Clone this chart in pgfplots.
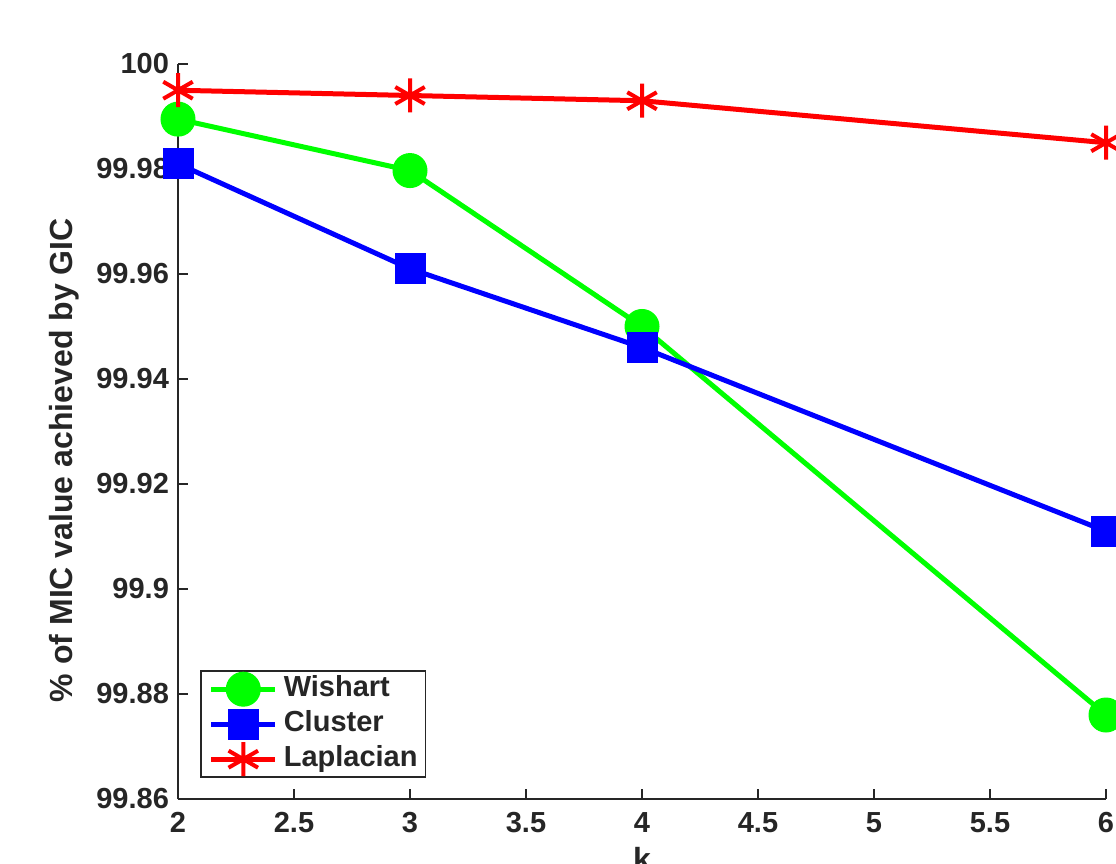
\documentclass[border=0pt]{standalone}
\usepackage{fontspec}
\setmainfont{Liberation Sans}
\usepackage{pgfplots}
\pgfplotsset{compat=1.18}
\definecolor{txt}{RGB}{38,38,38}
\begin{document}
\begin{tikzpicture}
\begin{axis}[name=ax, scale only axis, width=464pt, height=367.5pt,
  xmin=2, xmax=6, ymin=99.86, ymax=100,
  axis x line*=bottom, axis y line*=left,
  axis line style={line width=0.8pt, draw=txt},
  xtick={2,2.5,3,3.5,4,4.5,5,5.5,6},
  xticklabels={2,2.5,3,3.5,4,4.5,5,5.5,6},
  ytick={99.86,99.88,99.9,99.92,99.94,99.96,99.98,100},
  yticklabels={99.86,99.88,99.9,99.92,99.94,99.96,99.98,100},
  tick align=inside, major tick length=5pt,
  tick style={line width=0.8pt, draw=txt},
  ticklabel style={font=\fontsize{14.5}{17}\selectfont\bfseries, text=txt},
  xticklabel style={yshift=-3pt},
  yticklabel style={xshift=-1pt},
  ylabel={\% of MIC value achieved by GIC},
  ylabel style={at={(axis description cs:-0.123,0.461)}, anchor=center, rotate=0, font=\fontsize{16}{19}\selectfont\bfseries, text=txt},
  xlabel={k},
  xlabel style={at={(axis description cs:0.5,0)}, anchor=north, yshift=-24pt, inner sep=0pt, font=\fontsize{16}{19}\selectfont\bfseries, text=txt},
  clip=false,
  legend style={at={(axis description cs:0.0237,0.0286)}, anchor=south west,
    draw=txt, line width=0.8pt, fill=white,
    font=\fontsize{14.5}{17}\selectfont\bfseries, text=txt,
    inner xsep=4pt, inner ysep=0.5pt,
    nodes={inner sep=0pt, text height=10.5pt, text depth=3pt},
    row sep=1.5pt,
    /tikz/every odd column/.append style={column sep=3pt}},
  legend cell align=left,
  legend image code/.code={\draw[mark repeat=2,mark phase=2,#1] plot coordinates {(0pt,0pt) (16pt,0pt) (32pt,0pt)};},
]
\addplot[color={rgb,1:red,0;green,1;blue,0}, line width=2.5pt, mark=*, mark size=8.5pt, mark options={line width=0.5pt, fill={rgb,1:red,0;green,1;blue,0}}]
  coordinates {(2,99.9895) (3,99.9797) (4,99.9500) (6,99.8760)};
\addlegendentry{Wishart}
\addplot[color=blue, line width=2.5pt, mark=square*, mark size=7.5pt, mark options={line width=0.5pt, fill=blue}]
  coordinates {(2,99.9810) (3,99.9610) (4,99.9460) (6,99.9110)};
\addlegendentry{Cluster}
\addplot[color=red, line width=2.5pt, mark=asterisk, mark size=8.5pt, mark options={line width=2pt}]
  coordinates {(2,99.9950) (3,99.9940) (4,99.9930) (6,99.9850)};
\addlegendentry{Laplacian}
\end{axis}
\pgfresetboundingbox
\path[use as bounding box] ([xshift=-89pt,yshift=-32pt]ax.south west) rectangle ([xshift=5pt,yshift=32pt]ax.north east);
\end{tikzpicture}
\end{document}
